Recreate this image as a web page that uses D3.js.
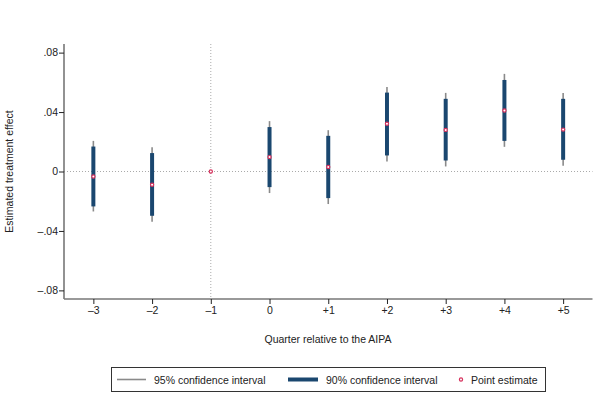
<!DOCTYPE html>
<html>
<head>
<meta charset="utf-8">
<script src="https://cdn.jsdelivr.net/npm/d3@7"></script>
<style>
	body { margin: 0; background: #fff; }
	text { font-family: "Liberation Sans", Arial, sans-serif; fill: #222; }
</style>
</head>
<body>
<svg id="chart" width="603" height="404"></svg>
<script>
// quarters relative to the AIPA (-1 is the reference quarter)
var quarters = [-3, -2, -1, 0, 1, 2, 3, 4, 5];
var quarterLabels = ["\u20133", "\u20132", "\u20131", "0", "+1", "+2", "+3", "+4", "+5"];
var pointEstimate = [-0.0034, -0.0089, 0, 0.0097, 0.0030, 0.0321, 0.0280, 0.0410, 0.0282];
var ci95Low  = [-0.0269, -0.0338, null, -0.0145, -0.0219, 0.0067, 0.0034, 0.0166, 0.0038];
var ci95High = [ 0.0206,  0.0164, null,  0.0339,  0.0278, 0.0569, 0.0529, 0.0657, 0.0529];
var ci90Low  = [-0.0235, -0.0298, null, -0.0105, -0.0179, 0.0108, 0.0074, 0.0206, 0.0079];
var ci90High = [ 0.0168,  0.0124, null,  0.0299,  0.0240, 0.0531, 0.0489, 0.0616, 0.0489];
var yTicks = [-0.08, -0.04, 0, 0.04, 0.08];
var yTickLabels = ["\u2013.08", "\u2013.04", "0", ".04", ".08"];

var svg = d3.select("#chart");

var x = d3.scaleLinear().domain([-3.5, 5.5]).range([64, 592.5]);
var y = d3.scaleLinear().domain([-0.0858, 0.0858]).range([299, 44]);

var rows = quarters.map(function(q, i)
{
	return { q: q, est: pointEstimate[i], lo95: ci95Low[i], hi95: ci95High[i], lo90: ci90Low[i], hi90: ci90High[i] };
});

// reference lines
svg.append("line")
	.attr("x1", x(-3.5)).attr("x2", x(5.5))
	.attr("y1", y(0)).attr("y2", y(0))
	.attr("stroke", "#aaa")
	.attr("stroke-width", 1)
	.attr("stroke-dasharray", "1,2");

svg.append("line")
	.attr("x1", x(-1)).attr("x2", x(-1))
	.attr("y1", y.range()[1]).attr("y2", y.range()[0])
	.attr("stroke", "#aaa")
	.attr("stroke-width", 1)
	.attr("stroke-dasharray", "1,2");

// axes
var yAxis = d3.axisLeft(y)
	.tickValues(yTicks)
	.tickSize(5)
	.tickFormat(function(d, i) { return yTickLabels[i]; });

var xAxis = d3.axisBottom(x)
	.tickValues(quarters)
	.tickSize(5)
	.tickFormat(function(d, i) { return quarterLabels[i]; });

var gy = svg.append("g").attr("transform", "translate(64,0)").call(yAxis);
var gx = svg.append("g").attr("transform", "translate(0,299)").call(xAxis);

[gy, gx].forEach(function(g)
{
	g.select(".domain").attr("stroke", "#777").attr("stroke-width", 1.6);
	g.selectAll(".tick line").attr("stroke", "#222").attr("stroke-width", 1);
	g.selectAll(".tick text").attr("font-size", "10.5px").attr("fill", "#222")
		.attr("font-family", "Liberation Sans, Arial, sans-serif");
});
gy.select(".domain").attr("d", "M0," + y.range()[1] + "V" + y.range()[0]);
gx.select(".domain").attr("d", "M" + x.range()[0] + ",0H" + x.range()[1]);
gy.selectAll(".tick text").attr("x", -6);
gx.selectAll(".tick text").attr("y", 8);

// axis titles
svg.append("text")
	.attr("transform", "translate(13," + y(0) + ") rotate(-90)")
	.attr("text-anchor", "middle")
	.attr("font-size", "10.5px")
	.text("Estimated treatment effect");

svg.append("text")
	.attr("x", 328)
	.attr("y", 343)
	.attr("text-anchor", "middle")
	.attr("font-size", "10.5px")
	.text("Quarter relative to the AIPA");

var withCi = rows.filter(function(d) { return d.lo95 !== null; });

// 95% intervals
svg.selectAll("line.ci95").data(withCi).enter().append("line")
	.classed("ci95", 1)
	.attr("x1", function(d) { return x(d.q); })
	.attr("x2", function(d) { return x(d.q); })
	.attr("y1", function(d) { return y(d.lo95); })
	.attr("y2", function(d) { return y(d.hi95); })
	.attr("stroke", "#8a8a8a")
	.attr("stroke-width", 1.6);

// 90% intervals
svg.selectAll("line.ci90").data(withCi).enter().append("line")
	.classed("ci90", 1)
	.attr("x1", function(d) { return x(d.q); })
	.attr("x2", function(d) { return x(d.q); })
	.attr("y1", function(d) { return y(d.lo90); })
	.attr("y2", function(d) { return y(d.hi90); })
	.attr("stroke", "#1a476f")
	.attr("stroke-width", 4);

// point estimates
svg.selectAll("circle.est").data(rows).enter().append("circle")
	.classed("est", 1)
	.attr("cx", function(d) { return x(d.q); })
	.attr("cy", function(d) { return y(d.est); })
	.attr("r", 1.6)
	.attr("fill", "#fff")
	.attr("stroke", "#d6305c")
	.attr("stroke-width", 1.2);

// legend
var legend = svg.append("g");
legend.append("rect")
	.attr("x", 111.5).attr("y", 367.5)
	.attr("width", 434).attr("height", 24)
	.attr("fill", "#fff")
	.attr("stroke", "#333")
	.attr("stroke-width", 1);

legend.append("line")
	.attr("x1", 117).attr("x2", 146).attr("y1", 379.5).attr("y2", 379.5)
	.attr("stroke", "#8a8a8a").attr("stroke-width", 1.6);
legend.append("text").attr("x", 154).attr("y", 383.5).attr("font-size", "10.5px")
	.text("95% confidence interval");

legend.append("line")
	.attr("x1", 288).attr("x2", 318).attr("y1", 379.5).attr("y2", 379.5)
	.attr("stroke", "#1a476f").attr("stroke-width", 4);
legend.append("text").attr("x", 326).attr("y", 383.5).attr("font-size", "10.5px")
	.text("90% confidence interval");

legend.append("circle")
	.attr("cx", 461).attr("cy", 379.5).attr("r", 1.6)
	.attr("fill", "#fff").attr("stroke", "#d6305c").attr("stroke-width", 1.2);
legend.append("text").attr("x", 471).attr("y", 383.5).attr("font-size", "10.5px")
	.text("Point estimate");
</script>
</body>
</html>
